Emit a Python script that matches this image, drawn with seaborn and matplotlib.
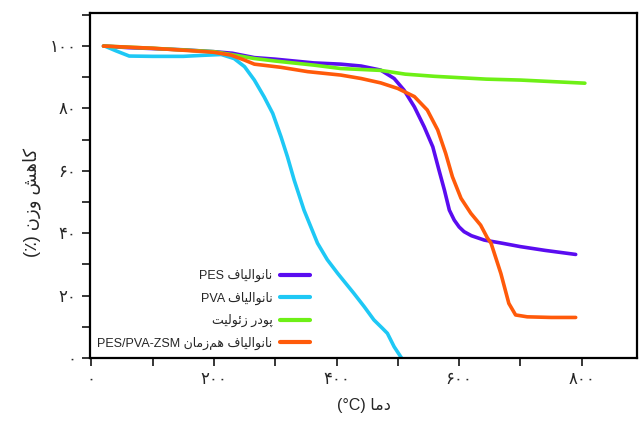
import numpy as np
import pandas as pd
import matplotlib
matplotlib.use("Agg")
import matplotlib.pyplot as plt
import seaborn as sns
from matplotlib.ticker import MultipleLocator, FixedLocator, FixedFormatter

# ---------------- data ----------------
pes_T = [20, 60, 100, 150, 200, 230, 266, 300, 363, 407, 440, 472, 494, 510, 527, 543, 557, 567, 576, 584, 592, 600, 608, 620, 641, 670, 700, 740, 790]
pes_W = [100, 99.5, 99.2, 98.8, 98.2, 97.7, 96.3, 95.8, 94.6, 94.2, 93.6, 92.3, 89.6, 85.9, 80.5, 74.1, 67.7, 60.3, 53.8, 47.4, 44.2, 42.0, 40.5, 39.2, 37.8, 36.8, 35.7, 34.5, 33.2]

pva_T = [22, 40, 62, 100, 150, 179, 212, 233, 250, 266, 282, 296, 309.5, 320, 331, 347, 369, 385, 402, 428, 445, 461, 475, 483, 494, 506]
pva_W = [100, 98.5, 96.8, 96.7, 96.7, 97.0, 97.3, 96.0, 93.4, 89.1, 83.7, 78.4, 70.9, 64.5, 57.0, 47.4, 36.8, 31.5, 27.1, 20.8, 16.5, 12.2, 9.5, 7.9, 3.6, 0.0]

zeo_T = [20, 100, 200, 228, 266, 300, 363, 407, 440, 472, 512, 560, 644, 700, 805]
zeo_W = [100, 99.3, 98.2, 97.3, 96.0, 95.2, 93.9, 92.8, 92.5, 92.2, 91.0, 90.3, 89.4, 89.1, 88.1]

hyb_T = [20, 100, 179, 200, 228, 250, 266, 309, 353, 407, 440, 472, 500, 527, 548, 565, 578, 589, 603, 619, 635, 646, 652, 668, 681, 692, 711, 750, 790]
hyb_W = [100, 99.3, 98.3, 98.0, 97.1, 95.5, 94.2, 93.2, 91.8, 90.7, 89.6, 88.2, 86.4, 83.8, 79.5, 73.1, 65.6, 58.1, 51.2, 46.4, 42.6, 38.5, 36.8, 27.1, 17.5, 13.8, 13.2, 13.0, 13.0]

series_names = ["نانوالیاف PES", "نانوالیاف PVA", "پودر زئولیت", "نانوالیاف هم\u200cزمان PES/PVA-ZSM"]
series_colors = ["#5a0cf0", "#1ec8f5", "#6ef016", "#ff5a0a"]

x_ticks = [0, 200, 400, 600, 800]
x_tick_labels = ["۰", "۲۰۰", "۴۰۰", "۶۰۰", "۸۰۰"]
y_ticks = [0, 20, 40, 60, 80, 100]
y_tick_labels = ["۰", "۲۰", "۴۰", "۶۰", "۸۰", "۱۰۰"]
x_label = "دما (°C)"
y_label = "کاهش وزن (٪)"

# ---------------- minimal Persian shaping + visual ordering ----------------
FORMS = {
    'ا': ('\uFE8D', '\uFE8E', None, None),
    'د': ('\uFEA9', '\uFEAA', None, None),
    'ر': ('\uFEAD', '\uFEAE', None, None),
    'ز': ('\uFEAF', '\uFEB0', None, None),
    'و': ('\uFEED', '\uFEEE', None, None),
    'ن': ('\uFEE5', '\uFEE6', '\uFEE7', '\uFEE8'),
    'ل': ('\uFEDD', '\uFEDE', '\uFEDF', '\uFEE0'),
    'ف': ('\uFED1', '\uFED2', '\uFED3', '\uFED4'),
    'ه': ('\uFEE9', '\uFEEA', '\uFEEB', '\uFEEC'),
    'ش': ('\uFEB5', '\uFEB6', '\uFEB7', '\uFEB8'),
    'م': ('\uFEE1', '\uFEE2', '\uFEE3', '\uFEE4'),
    'ت': ('\uFE95', '\uFE96', '\uFE97', '\uFE98'),
    'ئ': ('\uFE89', '\uFE8A', '\uFE8B', '\uFE8C'),
    'ک': ('\uFB8E', '\uFB8F', '\uFB90', '\uFB91'),
    'پ': ('\uFB56', '\uFB57', '\uFB58', '\uFB59'),
    'ی': ('\uFBFC', '\uFBFD', '\uFBFE', '\uFBFF'),
}
MIRROR = {'(': ')', ')': '('}


def shape_word(w):
    out = []
    for i, c in enumerate(w):
        if c not in FORMS:
            out.append(c)
            continue
        iso, fin, ini, med = FORMS[c]
        prev = w[i - 1] if i > 0 else None
        nxt = w[i + 1] if i + 1 < len(w) else None
        jp = prev in FORMS and FORMS[prev][2] is not None
        jn = nxt in FORMS and ini is not None
        if jp and jn:
            out.append(med)
        elif jp:
            out.append(fin)
        elif jn:
            out.append(ini)
        else:
            out.append(iso)
    return ''.join(out).replace('\u200c', '')


def rtl(text):
    vis = []
    for w in reversed(text.split(' ')):
        latin = any(ch.isascii() and ch.isalpha() for ch in w)
        if not latin:
            s = shape_word(w)
            vis.append(''.join(MIRROR.get(ch, ch) for ch in reversed(s)))
        else:
            vis.append(w)
    return ' '.join(vis)


# ---------------- figure ----------------
sns.set_style("ticks")
plt.rcParams['font.family'] = ['Liberation Sans', 'DejaVu Sans']

fig = plt.figure(figsize=(6.4, 4.23), dpi=100)
ax = fig.add_axes([90 / 640, 1 - 358 / 423, 547 / 640, 345 / 423])

for T, W, name, col in zip([pes_T, pva_T, zeo_T, hyb_T], [pes_W, pva_W, zeo_W, hyb_W],
                           series_names, series_colors):
    df = pd.DataFrame({"T": T, "W": W})
    sns.lineplot(data=df, x="T", y="W", color=col, linewidth=2.6, ax=ax,
                 label=rtl(name), sort=False, solid_capstyle='round',
                 solid_joinstyle='round')

ax.set_xlim(-2, 890)
ax.set_ylim(0, 110.6)

ax.xaxis.set_major_locator(FixedLocator(x_ticks))
ax.xaxis.set_major_formatter(FixedFormatter(x_tick_labels))
ax.xaxis.set_minor_locator(MultipleLocator(100))
ax.yaxis.set_major_locator(FixedLocator(y_ticks))
ax.yaxis.set_major_formatter(FixedFormatter(y_tick_labels))
ax.yaxis.set_minor_locator(MultipleLocator(10))

ax.tick_params(which='both', direction='out', length=5.8, width=1.1, color='black')
ax.tick_params(which='major', labelsize=12, pad=4)

for sp in ax.spines.values():
    sp.set_linewidth(1.6)
    sp.set_color('black')
    sp.set_visible(True)

ax.set_xlabel(rtl(x_label), fontsize=11.5, labelpad=8)
ax.set_ylabel(rtl(y_label), fontsize=13)
ax.yaxis.set_label_coords(-0.09, 0.45)

leg = ax.legend(loc='lower right', bbox_to_anchor=((310 - 90) / 547, 8 / 345),
                frameon=False, markerfirst=False, fontsize=9,
                handlelength=2.4, handletextpad=0.6, labelspacing=0.75,
                borderpad=0, borderaxespad=0)
for line in leg.get_lines():
    line.set_linewidth(3)

fig.savefig("out.png", dpi=100)
